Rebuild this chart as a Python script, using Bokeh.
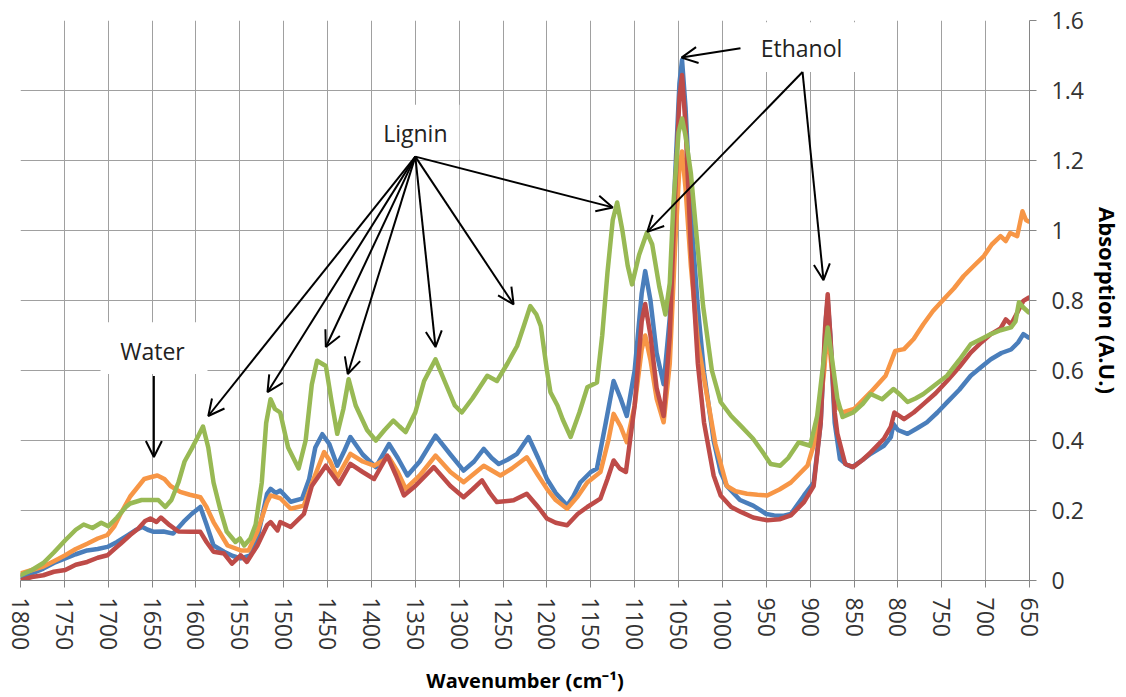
from bokeh.plotting import figure
from bokeh.models import (Range1d, FixedTicker, Arrow, OpenHead, Label, BoxAnnotation)
from bokeh.embed import file_html
from bokeh.resources import INLINE

# FTIR spectra: wavenumber (cm-1) and absorption (A.U.)
wn_blue = [1800, 1787, 1774, 1762, 1749, 1737, 1724, 1712, 1701, 1690, 1678, 1668, 1661, 1655, 1648,
           1637, 1626, 1614, 1605, 1595, 1588, 1580, 1568, 1558, 1549, 1538, 1530, 1519, 1515, 1509,
           1504, 1492, 1479, 1471, 1464, 1456, 1448, 1439, 1431, 1424, 1410, 1395, 1380, 1370, 1359,
           1345, 1327, 1310, 1295, 1283, 1272, 1263, 1255, 1245, 1234, 1221, 1210, 1200, 1190, 1177,
           1170, 1162, 1150, 1143, 1133, 1124, 1116, 1109, 1100, 1092, 1088, 1082, 1075, 1067, 1060,
           1054, 1049, 1046, 1042, 1036, 1028, 1021, 1010, 1002, 995, 980, 965, 950, 941, 930, 922,
           907, 896, 888, 882, 880, 877, 872, 866, 858, 852, 840, 831, 816, 808, 805, 800, 789, 778,
           767, 755, 744, 730, 717, 705, 694, 682, 671, 663, 657, 651]
abs_blue = [0.011, 0.02, 0.034, 0.05, 0.063, 0.075, 0.086, 0.09, 0.096, 0.11, 0.129, 0.145, 0.153, 0.145, 0.139,
            0.14, 0.134, 0.168, 0.19, 0.21, 0.16, 0.10, 0.082, 0.07, 0.063, 0.072, 0.12, 0.248, 0.262, 0.25,
            0.257, 0.225, 0.234, 0.29, 0.38, 0.418, 0.39, 0.328, 0.37, 0.41, 0.36, 0.324, 0.39, 0.35, 0.30,
            0.34, 0.414, 0.36, 0.314, 0.34, 0.376, 0.35, 0.333, 0.345, 0.362, 0.41, 0.35, 0.29, 0.25, 0.214,
            0.24, 0.28, 0.31, 0.32, 0.45, 0.57, 0.52, 0.47, 0.6, 0.82, 0.884, 0.8, 0.65, 0.561, 0.75,
            1.15, 1.42, 1.487, 1.35, 1.05, 0.78, 0.595, 0.4, 0.31, 0.27, 0.23, 0.214, 0.19, 0.186, 0.185, 0.19,
            0.243, 0.28, 0.45, 0.75, 0.80, 0.7, 0.45, 0.347, 0.33, 0.324, 0.345, 0.362, 0.385, 0.41, 0.447, 0.43, 0.419, 0.435,
            0.452, 0.48, 0.509, 0.545, 0.585, 0.61, 0.632, 0.65, 0.66, 0.68, 0.704, 0.694]

wn_orange = [1800, 1787, 1774, 1762, 1749, 1737, 1724, 1712, 1701, 1693, 1686, 1675, 1667, 1659, 1652,
             1644, 1636, 1629, 1618, 1607, 1595, 1588, 1580, 1564, 1549, 1540, 1530, 1519, 1515, 1504,
             1492, 1477, 1469, 1454, 1447, 1439, 1424, 1410, 1397, 1380, 1370, 1361, 1345, 1327, 1310,
             1295, 1272, 1253, 1240, 1223, 1210, 1200, 1190, 1177, 1165, 1154, 1139, 1130, 1124, 1116,
             1109, 1100, 1092, 1088, 1082, 1075, 1067, 1060, 1054, 1049, 1046, 1042, 1036, 1028, 1017,
             1008, 995, 985, 972, 960, 949, 935, 922, 903, 892, 884, 880, 876, 870, 863, 850, 831, 814,
             803, 793, 782, 771, 760, 748, 736, 725, 713, 702, 693, 683, 677, 672, 664, 658, 654, 651]
abs_orange = [0.02, 0.03, 0.04, 0.055, 0.072, 0.09, 0.105, 0.12, 0.13, 0.155, 0.19, 0.24, 0.265, 0.29, 0.295,
              0.30, 0.29, 0.27, 0.253, 0.245, 0.238, 0.21, 0.167, 0.10, 0.086, 0.086, 0.14, 0.224, 0.243, 0.235,
              0.205, 0.214, 0.27, 0.367, 0.34, 0.295, 0.362, 0.34, 0.328, 0.352, 0.31, 0.262, 0.30, 0.357, 0.31,
              0.281, 0.328, 0.30, 0.32, 0.352, 0.30, 0.262, 0.23, 0.205, 0.24, 0.28, 0.31, 0.40, 0.476, 0.44,
              0.395, 0.5, 0.66, 0.70, 0.63, 0.52, 0.452, 0.62, 0.95, 1.18, 1.226, 1.12, 0.9, 0.68, 0.52,
              0.39, 0.27, 0.255, 0.248, 0.245, 0.243, 0.26, 0.28, 0.328, 0.42, 0.6, 0.72, 0.62, 0.5, 0.48, 0.49, 0.538, 0.585,
              0.656, 0.661, 0.69, 0.732, 0.77, 0.803, 0.835, 0.87, 0.9, 0.927, 0.96, 0.984, 0.97, 0.993, 0.984, 1.055, 1.03, 1.026]

wn_red = [1800, 1787, 1774, 1762, 1749, 1737, 1724, 1712, 1701, 1693, 1686, 1675, 1666, 1658, 1652,
          1645, 1640, 1630, 1620, 1605, 1595, 1588, 1580, 1568, 1559, 1549, 1542, 1530, 1519, 1515,
          1507, 1504, 1492, 1477, 1468, 1452, 1437, 1424, 1410, 1397, 1382, 1372, 1363, 1350, 1329,
          1310, 1295, 1285, 1274, 1265, 1257, 1238, 1223, 1210, 1200, 1190, 1177, 1165, 1154, 1139,
          1131, 1124, 1117, 1110, 1100, 1092, 1088, 1082, 1075, 1067, 1060, 1054, 1049, 1046, 1042,
          1036, 1028, 1021, 1010, 1002, 990, 979, 965, 949, 935, 922, 907, 896, 888, 883, 880, 877,
          872, 869, 860, 851, 840, 831, 816, 808, 804, 793, 782, 771, 757, 744, 730, 717, 705, 694,
          683, 677, 671, 664, 657, 651]
abs_red = [0.0, 0.01, 0.015, 0.025, 0.03, 0.045, 0.053, 0.065, 0.072, 0.09, 0.105, 0.13, 0.148, 0.17, 0.177,
           0.167, 0.18, 0.158, 0.14, 0.139, 0.139, 0.11, 0.082, 0.077, 0.048, 0.072, 0.053, 0.1, 0.158, 0.167,
           0.143, 0.167, 0.153, 0.19, 0.27, 0.328, 0.276, 0.333, 0.31, 0.29, 0.357, 0.3, 0.243, 0.27, 0.324,
           0.27, 0.238, 0.26, 0.286, 0.25, 0.224, 0.229, 0.248, 0.21, 0.177, 0.165, 0.158, 0.19, 0.21, 0.234,
           0.29, 0.343, 0.32, 0.31, 0.5, 0.74, 0.79, 0.7, 0.55, 0.47, 0.7, 1.1, 1.38, 1.444, 1.3,
           0.95, 0.62, 0.452, 0.3, 0.243, 0.21, 0.196, 0.18, 0.172, 0.175, 0.186, 0.224, 0.27, 0.45, 0.72, 0.818, 0.7,
           0.48, 0.42, 0.333, 0.324, 0.345, 0.366, 0.405, 0.44, 0.48, 0.461, 0.48, 0.504, 0.535, 0.57, 0.61, 0.651, 0.68, 0.704,
           0.72, 0.746, 0.732, 0.765, 0.799, 0.808]

wn_green = [1800, 1787, 1774, 1762, 1749, 1737, 1728, 1718, 1708, 1700, 1690, 1680, 1675, 1662, 1650,
            1643, 1635, 1628, 1620, 1613, 1605, 1598, 1592, 1586, 1580, 1572, 1565, 1555, 1550, 1545,
            1538, 1532, 1525, 1520, 1515, 1510, 1504, 1495, 1483, 1475, 1468, 1462, 1452, 1446, 1439,
            1432, 1426, 1418, 1405, 1395, 1385, 1375, 1368, 1361, 1350, 1340, 1327, 1315, 1305, 1297,
            1285, 1268, 1257, 1245, 1234, 1226, 1219, 1212, 1207, 1200, 1196, 1188, 1182, 1173, 1163,
            1154, 1143, 1137, 1131, 1125, 1120, 1114, 1108, 1103, 1095, 1086, 1080, 1072, 1065, 1060,
            1056, 1050, 1046, 1042, 1036, 1030, 1022, 1012, 1002, 990, 979, 965, 955, 945, 934, 925,
            913, 900, 892, 886, 880, 876, 869, 863, 851, 840, 831, 818, 805, 797, 789, 780, 771, 757,
            744, 730, 717, 705, 694, 683, 671, 666, 662, 657, 651]
abs_green = [0.015, 0.03, 0.05, 0.08, 0.115, 0.145, 0.16, 0.15, 0.165, 0.155, 0.18, 0.21, 0.22, 0.23, 0.23,
             0.23, 0.21, 0.23, 0.28, 0.34, 0.376, 0.41, 0.44, 0.38, 0.28, 0.2, 0.14, 0.11, 0.12, 0.10,
             0.12, 0.16, 0.28, 0.45, 0.518, 0.49, 0.48, 0.38, 0.32, 0.4, 0.56, 0.628, 0.613, 0.52, 0.419,
             0.49, 0.575, 0.5, 0.43, 0.40, 0.43, 0.457, 0.44, 0.424, 0.48, 0.57, 0.632, 0.56, 0.5, 0.48,
             0.52, 0.585, 0.57, 0.62, 0.67, 0.73, 0.784, 0.76, 0.727, 0.6, 0.538, 0.50, 0.46, 0.41, 0.48,
             0.552, 0.566, 0.7, 0.88, 1.03, 1.08, 1.0, 0.9, 0.846, 0.93, 0.994, 0.96, 0.84, 0.76, 0.85,
             1.07, 1.28, 1.32, 1.27, 1.165, 1.0, 0.784, 0.6, 0.51, 0.47, 0.442, 0.405, 0.37, 0.333, 0.328, 0.35,
             0.395, 0.385, 0.47, 0.6, 0.723, 0.65, 0.52, 0.467, 0.48, 0.505, 0.533, 0.518, 0.547, 0.53, 0.51, 0.52, 0.533, 0.56,
             0.585, 0.63, 0.675, 0.69, 0.704, 0.715, 0.723, 0.74, 0.795, 0.78, 0.766]

x_ticks = list(range(650, 1801, 50))
y_ticks = [0, 0.2, 0.4, 0.6, 0.8, 1.0, 1.2, 1.4, 1.6]
y_tick_text = {0: "0", 0.2: "0.2", 0.4: "0.4", 0.6: "0.6", 0.8: "0.8",
               1.0: "1", 1.2: "1.2", 1.4: "1.4", 1.6: "1.6"}

FONT = "Open Sans"
GRID = "#a0a0a0"
AXIS = "#868686"

p = figure(width=1126, height=697, x_range=Range1d(1800, 650), y_range=Range1d(0, 1.6),
           y_axis_location="right", output_backend="svg", toolbar_location=None,
           min_border_left=20, min_border_top=20, min_border_right=97, min_border_bottom=115)
p.outline_line_color = None
p.background_fill_color = "white"
p.border_fill_color = "white"

# axes
p.xaxis.ticker = FixedTicker(ticks=x_ticks)
p.yaxis.ticker = FixedTicker(ticks=y_ticks)
p.yaxis.major_label_overrides = y_tick_text
p.xaxis.major_label_orientation = "vertical"
for ax in (p.xaxis[0], p.yaxis[0]):
    ax.axis_line_color = AXIS
    ax.major_tick_line_color = AXIS
    ax.major_tick_out = 7
    ax.major_tick_in = 0
    ax.minor_tick_line_color = None
    ax.major_label_text_font = FONT
    ax.major_label_text_font_size = "23px"
    ax.major_label_text_color = "#333333"
    ax.axis_label_text_font = FONT
    ax.axis_label_text_font_style = "bold"
    ax.axis_label_text_color = "black"
p.xaxis.major_label_standoff = 10
p.yaxis.major_label_standoff = 15
p.xaxis.axis_label = "Wavenumber (cm\u207b\u00b9)"
p.xaxis.axis_label_text_font_size = "20px"
p.xaxis.axis_label_standoff = 14
p.yaxis.axis_label = "Absorption (A.U.)"
p.yaxis.axis_label_text_font_size = "22px"
p.yaxis.axis_label_standoff = 6

p.xgrid.grid_line_color = GRID
p.ygrid.grid_line_color = GRID
p.xgrid.grid_line_width = 1
p.ygrid.grid_line_width = 1

# spectra
series = [
    (wn_blue, abs_blue, "#4A7EBB"),
    (wn_orange, abs_orange, "#F79646"),
    (wn_red, abs_red, "#BE4B48"),
    (wn_green, abs_green, "#98B954"),
]
for xs, ys, col in series:
    p.line(xs, ys, line_color=col, line_width=4.5, line_join="round", line_cap="round")

# white boxes behind the annotation words
for l, r, b, t in [(1708.8, 1586.9, 0.59, 0.738),
                   (1398.8, 1299.7, 1.202, 1.359),
                   (970.3, 847.2, 1.453, 1.595)]:
    p.add_layout(BoxAnnotation(left=l, right=r, bottom=b, top=t, fill_color="white",
                               fill_alpha=1.0, line_color=None))

def arrow(x0, y0, x1, y1):
    p.add_layout(Arrow(end=OpenHead(size=16, line_width=2, line_color="black"),
                       x_start=x0, y_start=y0, x_end=x1, y_end=y1,
                       line_width=2, line_color="black"))

# water band
arrow(1648, 0.584, 1648, 0.353)
# lignin bands
for tx, ty in [(1586, 0.47), (1518.5, 0.538), (1452, 0.667), (1427, 0.59),
               (1327, 0.667), (1238, 0.789), (1125, 1.066)]:
    arrow(1350, 1.211, tx, ty)
# ethanol bands
arrow(979.4, 1.521, 1046.6, 1.494)
arrow(908.7, 1.453, 1085.6, 0.996)
arrow(908.7, 1.453, 884.8, 0.858)

for x, y, txt in [(1649.6, 0.655, "Water"), (1350, 1.279, "Lignin"), (909.8, 1.521, "Ethanol")]:
    p.add_layout(Label(x=x, y=y, text=txt, text_align="center", text_baseline="middle",
                       text_font=FONT, text_font_size="23px", text_color="#222222"))

open("out.html", "w").write(file_html(p, INLINE))
